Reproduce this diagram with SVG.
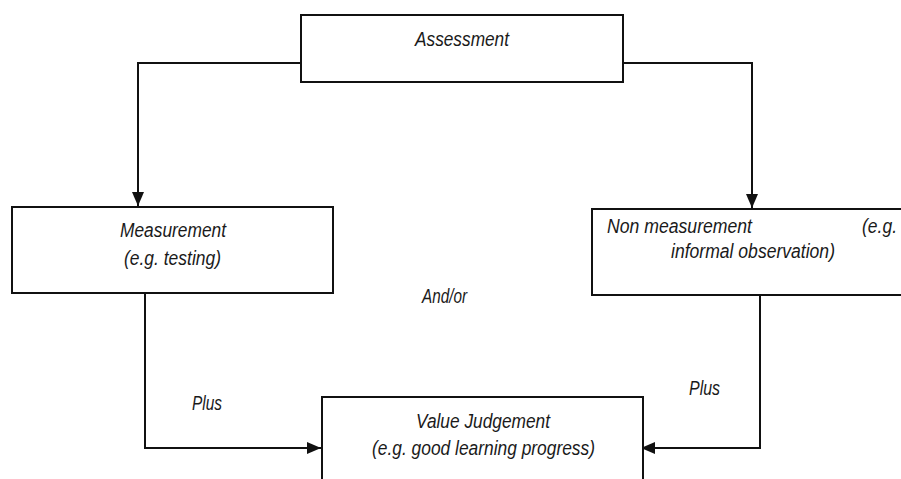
<svg xmlns="http://www.w3.org/2000/svg" width="901" height="479" viewBox="0 0 901 479">
<defs>
<style>
.box{fill:#fff;stroke:#111;stroke-width:2}
.t{font-family:"Liberation Sans",Arial,sans-serif;font-style:italic;font-size:19.5px;fill:#1a1a1a}
.c{fill:none;stroke:#111;stroke-width:2}
</style>
<marker id="arr" viewBox="0 0 14 12" refX="14" refY="6" markerWidth="14" markerHeight="12" markerUnits="userSpaceOnUse" orient="auto">
<path d="M0,0 L14,6 L0,12 Z" fill="#111"/>
</marker>
</defs>
<rect width="901" height="479" fill="#fff"/>
<g id="connectors">
<path class="c" d="M301,63 H138 V206" marker-end="url(#arr)"/>
<path class="c" d="M623,63 H752 V208" marker-end="url(#arr)"/>
<path class="c" d="M145,293 V448 H321" marker-end="url(#arr)"/>
<path class="c" d="M760,295 V448 H641" marker-end="url(#arr)"/>
</g>
<g id="assessment">
<rect class="box" x="301" y="15" width="322" height="67"/>
<text class="t" x="415" y="46" textLength="94" lengthAdjust="spacingAndGlyphs">Assessment</text>
</g>
<g id="measurement">
<rect class="box" x="12" y="207" width="321" height="86"/>
<text class="t" x="120" y="237" textLength="106" lengthAdjust="spacingAndGlyphs">Measurement</text>
<text class="t" x="124" y="265" textLength="97" lengthAdjust="spacingAndGlyphs">(e.g. testing)</text>
</g>
<g id="nonmeasurement">
<rect class="box" x="592" y="209" width="320" height="86"/>
<text class="t" x="607" y="233" textLength="145" lengthAdjust="spacingAndGlyphs">Non measurement</text>
<text class="t" x="862" y="233" textLength="35" lengthAdjust="spacingAndGlyphs">(e.g.</text>
<text class="t" x="671" y="258" textLength="164" lengthAdjust="spacingAndGlyphs">informal observation)</text>
</g>
<g id="valuejudgement">
<rect class="box" x="322" y="397" width="321" height="95"/>
<text class="t" x="416" y="428" textLength="134" lengthAdjust="spacingAndGlyphs">Value Judgement</text>
<text class="t" x="372" y="455" textLength="223" lengthAdjust="spacingAndGlyphs">(e.g. good learning progress)</text>
</g>
<g id="labels">
<text class="t" x="422" y="303" textLength="45" lengthAdjust="spacingAndGlyphs">And/or</text>
<text class="t" x="192" y="410" textLength="30" lengthAdjust="spacingAndGlyphs">Plus</text>
<text class="t" x="689" y="395" textLength="31" lengthAdjust="spacingAndGlyphs">Plus</text>
</g>
</svg>
